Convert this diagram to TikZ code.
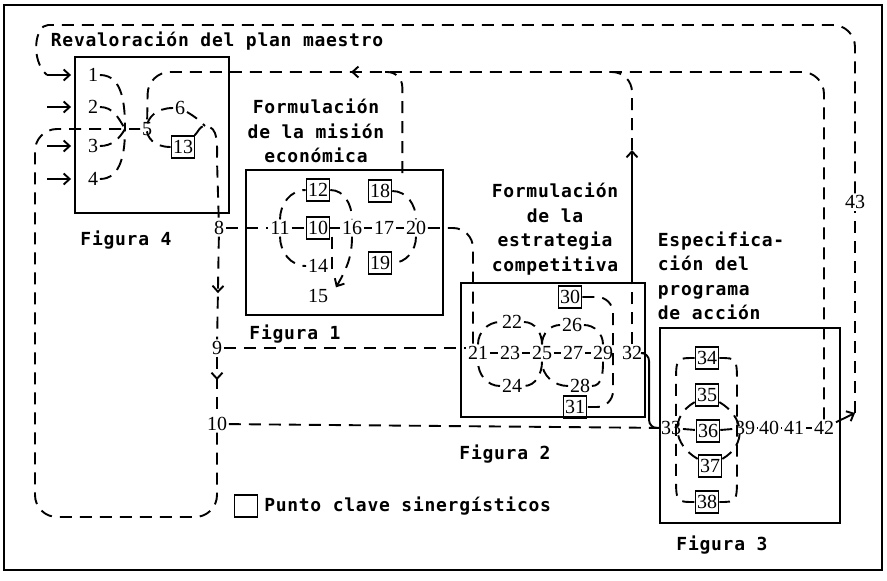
\documentclass[tikz,border=0pt]{standalone}
\usepackage{fontspec}
\setmainfont{Liberation Serif}
\newfontfamily\typfont[LetterSpace=4]{DejaVu Sans Mono}
\usetikzlibrary{positioning,decorations.markings,arrows.meta}

\tikzset{
  txt/.style={font=\typfont\bfseries\fontsize{18}{24.5}\selectfont, inner sep=0pt},
  num/.style={font=\fontsize{20}{20}\selectfont, inner sep=1pt},
  key/.style={num, draw, line width=1.6pt, minimum width=23pt, minimum height=22pt, inner sep=0pt},
  figbox/.style={draw, line width=1.9pt},
  flow/.style={line width=1.9pt, dash pattern=on 12pt off 8pt},
  midarrow/.style={postaction={decorate},
    decoration={markings, mark=at position #1 with {\arrow{>}}}},
}

\begin{document}
\begin{tikzpicture}[x=1pt,y=-1pt,>={Straight Barb[length=6pt,width=11pt]},line width=1.9pt]
    \useasboundingbox (0,0) rectangle (887,581);
    \draw[line width=1.6pt] (4,5) rectangle (882,570);

    % cajas de las figuras
    \node[figbox, minimum width=154pt, minimum height=156pt] (fig4) at (152,135) {};
    \node[figbox, minimum width=197pt, minimum height=145pt] (fig1) at (344.5,242.5) {};
    \node[figbox, minimum width=184pt, minimum height=134pt] (fig2) at (553,350) {};
    \node[figbox, minimum width=180pt, minimum height=195pt] (fig3) at (750,425.5) {};

    \node[txt, anchor=west] (tplan) at (50,41) {Revaloración del plan maestro};
    \node[txt, align=center] (tmis) at (316,131) {Formulación\\de la misión\\económica};
    \node[txt, align=center] (test) at (555,229) {Formulación\\de la\\estrategia\\competitiva};
    \node[txt, align=left, anchor=west] (tprog) at (657,276) {Especifica-\\ción del\\programa\\de acción};
    \node[txt] (f4) at (126,240) {Figura 4};
    \node[txt] (f1) at (295,334) {Figura 1};
    \node[txt] (f2) at (505,454) {Figura 2};
    \node[txt] (f3) at (722,545) {Figura 3};

    % puntos
    \foreach \n/\x/\y in {1/93/75, 2/93/107, 3/93/146, 4/93/179, 5/147/129, 6/180/108,
        8/219/228, 9/217/348, 10/217/424, 11/280/228, 14/318/266, 15/318/296,
        16/352/228, 17/384/228, 20/416/228, 21/478/353, 22/512/322, 23/510/353,
        24/512/386, 25/542/353, 26/572/325, 27/573/353, 28/580/386, 29/603/353,
        32/632/353, 33/671/428, 39/745/428, 40/769/428, 41/794/428, 42/824/428,
        43/855/202}
        \node[num] (n\n) at (\x,\y) {\n};
    % puntos clave
    \foreach \n/\x/\y in {13/183/147, 10/318/228, 12/318/190, 18/380/191, 19/380/263,
        30/570/297, 31/575/407, 34/707/358, 35/707/395, 36/708/431, 37/710/466,
        38/707/502}
        \node[key] (k\n) at (\x,\y) {\n};

    \node[key] (leg) at (246,506) {};
    \node[txt, right=5pt of leg] (tleg) {Punto clave sinergísticos};

    % figura 4
    \coordinate (src) at (47,0);
    \coordinate (j5) at (125,129);
    \coordinate (e7) at (205,126);
    \foreach \i in {1,...,4}
        \draw[->,shorten >=3pt] (n\i -| src) -- (n\i -| fig4.west);
    \draw[flow] (n1) to[out=0,in=90] (j5);
    \draw[flow] (n2) to[out=0,in=120] (j5);
    \draw[flow] (n3) to[out=0,in=-120] (j5);
    \draw[flow] (n4) to[out=0,in=-90] (j5);
    \draw[flow] (n6) to[out=180,in=180,looseness=2.2] (k13);
    \draw[flow] (n6) to[out=-30,in=135] (e7);
    \draw[flow] (k13) to[out=45,in=180] (e7) to[out=0,in=90] (217,160) -- (n8);
    \draw[flow, midarrow=0.55] (n8) -- (n9);
    \draw[flow, midarrow=0.4] (n9) -- (n10);
    \draw[flow, rounded corners=22] (n10) |- (35,517) |- (n5);

    % figura 1
    \foreach \a/\b in {n8/n11, n11/k10, k10/n16, n16/n17, n17/n20}
        \draw[flow] (\a) -- (\b);
    \draw[flow] (n11) to[out=90,in=180] (k12);
    \draw[flow] (k12) to[out=0,in=90] (n16);
    \draw[flow] (n11) to[out=-90,in=180] (n14);
    \draw[flow] ([xshift=-8pt]n16.south west) -- ++(0,36);
    \draw[flow, ->] (n16) to[out=-90,in=60] ([xshift=6pt]n15.north east);
    \draw[flow] (k18) to[out=0,in=90] (n20);
    \draw[flow] (n20) to[out=-90,in=0] (k19);
    \draw[flow, rounded corners=20] (n20) -| ([xshift=-5pt]n21.north);
    \draw[flow] (n9.east) -- (n9.east -| n21.west);
    \draw[flow] (n10) -- (n33);

    % figura 2
    \coordinate (c29) at (613,353);
    \coordinate (a32) at (632,150);
    \foreach \a/\b in {n21/n23, n23/n25, n25/n27, n27/n29}
        \draw[flow] (\a) -- (\b);
    \foreach \a/\b/\o/\i in {n21/n22/90/180, n22/n25/0/90, n25/n24/-90/0, n24/n21/180/-90,
        n25/n26/90/180, n26/n29/0/90, n29/n28/-90/0, n28/n25/180/-90}
        \draw[flow] (\a) to[out=\o,in=\i] (\b);
    \draw[flow, rounded corners=16] (k30) -| (c29) |- (k31);
    \draw[flow] (n32) -- (n32 |- fig2.north);
    \draw[->] (n32 |- fig2.north) -- (a32);
    \draw[flow, rounded corners=20] (a32) |- (600,72);
    \draw[rounded corners=8] (n32) -| ([xshift=-10pt]n33.west) -- (n33);

    % figura 3
    \coordinate (a42) at (855,413);
    \foreach \a/\b in {n33/k36, k36/n39, n39/n40, n40/n41, n41/n42}
        \draw[flow] (\a) -- (\b);
    \draw[flow] (k34.west) .. controls (676,358) .. (676,385) -- (676,475)
        .. controls (676,502) .. (k38.west);
    \draw[flow] (k34.east) .. controls (737,358) .. (737,385) -- (737,475)
        .. controls (737,502) .. (k38.east);
    \draw[flow] (k35) to[out=210,in=150,looseness=1.3] (k37);
    \draw[flow] (k35) to[out=-30,in=30,looseness=1.3] (k37);
    \draw[->] (n42) -- (a42);

    % lazos de revaloracion
    \draw[flow] (a42) -- (n43);
    \draw[flow, rounded corners=22] (n43) |- (70,25)
        .. controls (35,25) and (30,60) .. (n1 -| src);
    \draw[flow, rounded corners=22, midarrow=0.77] (n42) |- (148,72) -- (n5);
    \draw[flow, rounded corners=15] (385,72) -| ([xshift=10pt]k18.north east);
\end{tikzpicture}
\end{document}
